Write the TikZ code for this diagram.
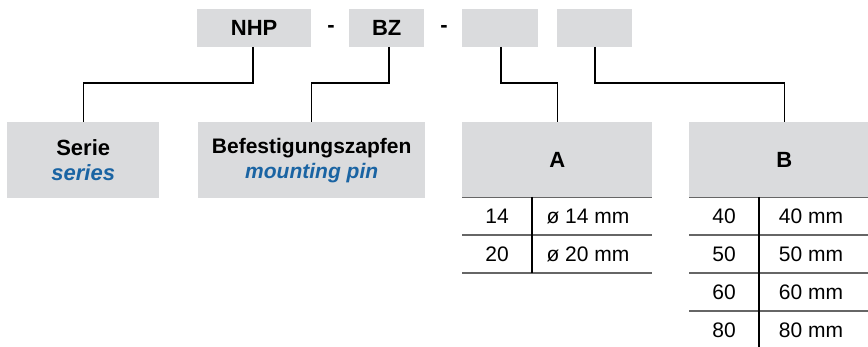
\documentclass[tikz,border=0pt]{standalone}
\usepackage{fontspec}
\setmainfont{Liberation Sans}
\definecolor{boxgray}{HTML}{DADBDD}
\definecolor{engblue}{HTML}{1A64A3}
\definecolor{rulegray}{HTML}{666666}
\begin{document}
\begin{tikzpicture}[x=1pt,y=-1pt,
  gbox/.style={fill=boxgray,draw=none,inner sep=0pt,anchor=north west,align=center},
  conn/.style={draw=black,line width=1.1pt},
  hrule/.style={draw=rulegray,line width=1.4pt},
  vrule/.style={draw=black,line width=1.1pt},
  big/.style={font=\fontsize{22}{25}\selectfont\bfseries},
  cell/.style={font=\fontsize{21}{24}\selectfont,inner sep=0pt}]
\useasboundingbox (0,0) rectangle (868,347);
\clip (0,0) rectangle (868,347);
% top code boxes
\node[gbox,minimum width=114pt,minimum height=38pt,big] (nhp) at (197,9) {NHP};
\node[gbox,minimum width=75pt,minimum height=38pt,big] (bz) at (349,9) {BZ};
\node[gbox,minimum width=76pt,minimum height=38pt] (ca) at (462,9) {};
\node[gbox,minimum width=75pt,minimum height=38pt] (cb) at (557,9) {};
\node[big,inner sep=0pt] (d1) at (331,29) {-};
\node[big,inner sep=0pt] (d2) at (444,29) {-};
% description boxes
\node[gbox,minimum width=152pt,minimum height=76pt,font=\fontsize{22}{25}\selectfont\bfseries] (serie) at (7,122)
  {Serie\\{\itshape\color{engblue}series}};
\node[gbox,minimum width=227pt,minimum height=76pt,font=\fontsize{21}{25}\selectfont\bfseries] (bef) at (198,122)
  {Befestigungszapfen\\{\itshape\color{engblue}mounting pin}};
\node[gbox,minimum width=190pt,minimum height=75pt,big] (ha) at (462,122) {A};
\node[gbox,minimum width=190pt,minimum height=75pt,big] (hb) at (689,122) {B};
% connectors
\draw[conn] (253,47) -- (253,83) -| (serie.north);
\draw[conn] (389,47) -- (389,83) -| (bef.north);
\draw[conn] (501,47) -- (501,83) -| (ha.north);
\draw[conn] (595,47) -- (595,83) -| (hb.north);
% table A
\draw[hrule] (ha.south west) -- (ha.south east);
\draw[hrule] (462,235) -- (652,235);
\draw[hrule] (462,273) -- (652,273);
\draw[vrule] (532,197) -- (532,273);
\node[cell] (a1) at (497,216) {14};
\node[cell] (a1t) at (588,216) {ø 14 mm};
\node[cell] (a2) at (497,254) {20};
\node[cell] (a2t) at (588,254) {ø 20 mm};
% table B
\draw[hrule] (hb.south west) -- (hb.south east);
\draw[hrule] (689,235) -- (879,235);
\draw[hrule] (689,273) -- (879,273);
\draw[hrule] (689,311) -- (879,311);
\draw[vrule] (759,197) -- (759,350);
\node[cell] (b1) at (724,216) {40};
\node[cell] (b1t) at (811,216) {40 mm};
\node[cell] (b2) at (724,254) {50};
\node[cell] (b2t) at (811,254) {50 mm};
\node[cell] (b3) at (724,292) {60};
\node[cell] (b3t) at (811,292) {60 mm};
\node[cell] (b4) at (724,330) {80};
\node[cell] (b4t) at (811,330) {80 mm};
\end{tikzpicture}
\end{document}
